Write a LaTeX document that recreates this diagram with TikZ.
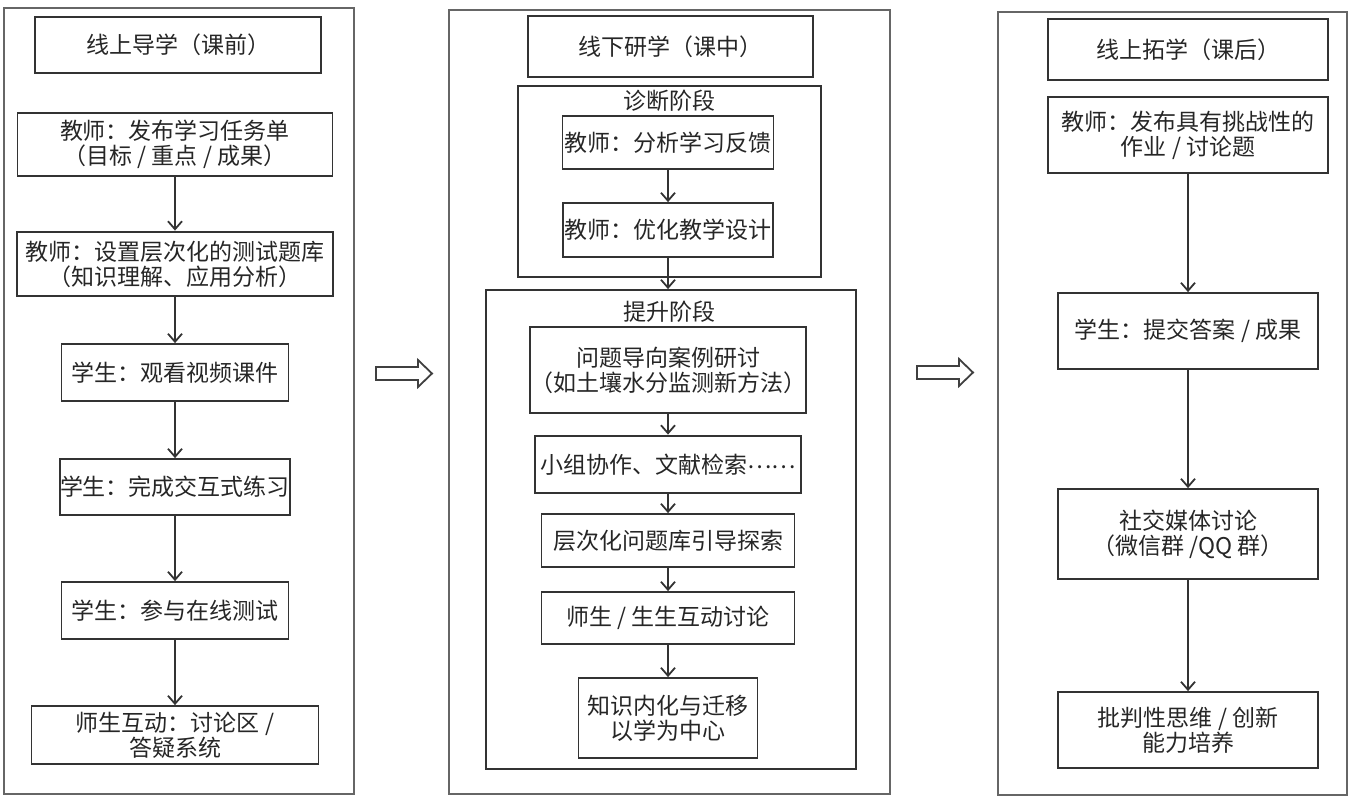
\documentclass[tikz,border=0pt]{standalone}
\usepackage{fontspec}
\setmainfont{Noto Sans CJK SC}
\usetikzlibrary{arrows.meta}

\begin{document}
\begin{tikzpicture}[x=0.5pt,y=-0.5pt,
  box/.style={draw=black!80,line width=0.9pt,align=center,inner sep=0pt,text=black!85,font=\fontsize{11.5pt}{12.5pt}\selectfont},
  thickbox/.style={box,line width=1.4pt},
  lbl/.style={inner sep=1pt,text=black!85,font=\fontsize{11.5pt}{12.5pt}\selectfont},
  panel/.style={draw=black!60,line width=1pt},
  flow/.style={draw=black!80,line width=0.9pt,-{Straight Barb[length=4pt,width=7pt]}},
  hollow/.style={draw=black!75,line width=0.9pt,fill=white}]
\useasboundingbox (0,0) rectangle (1350,798);
% three panels
\draw[panel] (4,8) rectangle (354,794);
\draw[panel] (449,10) rectangle (890,794);
\draw[panel] (998,12) rectangle (1347,795);
% left: before class
\node[thickbox,minimum width=143pt,minimum height=28pt] (lt) at (178,45) {线上导学（课前）};
\node[box,minimum width=157.5pt,minimum height=31.5pt] (l1) at (175,144.5) {教师：发布学习任务单\\（目标 / 重点 / 成果）};
\node[thickbox,minimum width=158pt,minimum height=32pt] (l2) at (175,264) {教师：设置层次化的测试题库\\（知识理解、应用分析）};
\node[box,minimum width=113.5pt,minimum height=28.5pt] (l3) at (175,372.5) {学生：观看视频课件};
\node[box,minimum width=113.5pt,minimum height=28pt] (l4) at (175,487) {学生：完成交互式练习};
\node[box,minimum width=113.5pt,minimum height=28.5pt] (l5) at (175,610.5) {学生：参与在线测试};
\node[box,minimum width=143.5pt,minimum height=29pt] (l6) at (175,735) {师生互动：讨论区 /\\答疑系统};
% middle: in class
\node[thickbox,minimum width=142.5pt,minimum height=30.5pt] (mt) at (670.5,46.5) {线下研学（课中）};
\node[thickbox,minimum width=151.5pt,minimum height=95.5pt] (diag) at (669.5,181.5) {};
\node[lbl] (diaglbl) at (669,101) {诊断阶段};
\node[box,minimum width=105.5pt,minimum height=26.5pt] (d1) at (668,142.5) {教师：分析学习反馈};
\node[box,minimum width=105pt,minimum height=27pt] (d2) at (668,230) {教师：优化教学设计};
\node[box,minimum width=185pt,minimum height=239.5pt] (up) at (671,529.5) {};
\node[lbl] (uplbl) at (669,312) {提升阶段};
\node[box,minimum width=130pt,minimum height=43pt] (u1) at (668,370) {问题导向案例研讨\\（如土壤水分监测新方法）};
\node[thickbox,minimum width=133pt,minimum height=28.5pt] (u2) at (668,464.5) {小组协作、文献检索\raisebox{0.4ex}{……}};
\node[box,minimum width=126.5pt,minimum height=26.5pt] (u3) at (668,540.5) {层次化问题库引导探索};
\node[box,minimum width=126.5pt,minimum height=26pt] (u4) at (668,618) {师生 / 生生互动讨论};
\node[box,minimum width=89.5pt,minimum height=40pt] (u5) at (668,718) {知识内化与迁移\\以学为中心};
% right: after class
\node[box,line width=1.1pt,minimum width=140pt,minimum height=30.5pt] (rt) at (1188,49.5) {线上拓学（课后）};
\node[box,minimum width=140pt,minimum height=38pt] (r1) at (1188,135) {教师：发布具有挑战性的\\作业 / 讨论题};
\node[box,minimum width=130pt,minimum height=38pt] (r2) at (1188,331) {学生：提交答案 / 成果};
\node[box,minimum width=130pt,minimum height=45pt] (r3) at (1188,534) {社交媒体讨论\\（微信群 /QQ 群）};
\node[box,minimum width=130pt,minimum height=38pt] (r4) at (1188,730) {批判性思维 / 创新\\能力培养};
% arrows
\foreach \a/\b in {l1/l2,l2/l3,l3/l4,l4/l5,l5/l6,d1/d2,u1/u2,u2/u3,u3/u4,u4/u5,r1/r2,r2/r3,r3/r4}
\draw[flow] (\a) -- (\b);
\draw[flow] (d2.south) -- (d2.south |- up.north);
% hollow arrows between panels
\draw[hollow] (376,367) -- (418,367) -- (418,360) -- (432,373.5) -- (418,387) -- (418,380) -- (376,380) -- cycle;
\draw[hollow] (917,366) -- (959,366) -- (959,359) -- (973,372.5) -- (959,386) -- (959,379) -- (917,379) -- cycle;
\end{tikzpicture}
\end{document}
